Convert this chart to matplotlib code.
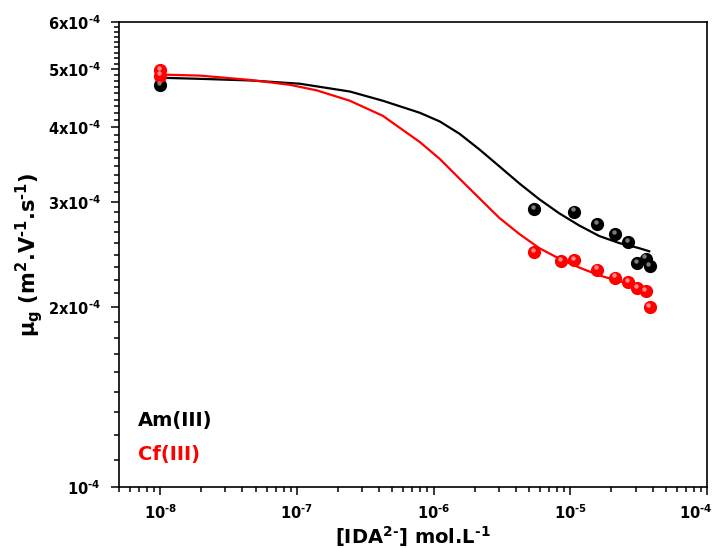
import numpy as np
import matplotlib
matplotlib.use("Agg")
import matplotlib.pyplot as plt
from matplotlib.ticker import FixedLocator, FixedFormatter, LogLocator, NullFormatter
from matplotlib.transforms import offset_copy, ScaledTranslation

plt.rcParams['font.family'] = 'DejaVu Sans'
plt.rcParams['font.weight'] = 'bold'
plt.rcParams['mathtext.default'] = 'bf'

HY = '\u2010'  # short hyphen, like the original exponents

# measured points
am_x = [1e-8, 5.4e-6, 1.07e-5, 1.58e-5, 2.14e-5, 2.63e-5, 3.1e-5, 3.55e-5, 3.8e-5]
am_y = [4.70e-4, 2.92e-4, 2.89e-4, 2.75e-4, 2.65e-4, 2.57e-4, 2.37e-4, 2.41e-4, 2.34e-4]

cf_x = [1e-8, 1e-8, 5.4e-6, 8.5e-6, 1.07e-5, 1.58e-5, 2.14e-5, 2.63e-5, 3.1e-5, 3.55e-5, 3.8e-5]
cf_y = [4.98e-4, 4.88e-4, 2.47e-4, 2.39e-4, 2.40e-4, 2.31e-4, 2.24e-4, 2.20e-4, 2.15e-4, 2.13e-4, 2.00e-4]

# fitted curves
am_fit_x = [1.00e-8, 1.96e-8, 4.54e-8, 1.05e-7, 2.44e-7, 4.25e-7, 7.91e-7, 1.11e-6,
            1.55e-6, 2.17e-6, 3.03e-6, 4.25e-6, 5.94e-6, 8.32e-6, 1.16e-5, 1.63e-5,
            2.28e-5, 3.19e-5, 3.78e-5]
am_fit_y = [4.84e-4, 4.82e-4, 4.79e-4, 4.73e-4, 4.59e-4, 4.43e-4, 4.23e-4, 4.09e-4,
            3.90e-4, 3.67e-4, 3.44e-4, 3.22e-4, 3.03e-4, 2.87e-4, 2.74e-4, 2.63e-4,
            2.56e-4, 2.51e-4, 2.48e-4]

cf_fit_x = [1.00e-8, 1.96e-8, 4.54e-8, 8.89e-8, 1.40e-7, 2.44e-7, 4.25e-7, 7.91e-7,
            1.11e-6, 1.55e-6, 2.17e-6, 3.03e-6, 4.25e-6, 5.94e-6, 8.32e-6, 1.16e-5,
            1.63e-5, 2.28e-5, 3.19e-5, 3.78e-5]
cf_fit_y = [4.90e-4, 4.88e-4, 4.80e-4, 4.71e-4, 4.61e-4, 4.43e-4, 4.18e-4, 3.78e-4,
            3.54e-4, 3.28e-4, 3.04e-4, 2.82e-4, 2.65e-4, 2.51e-4, 2.41e-4, 2.33e-4,
            2.26e-4, 2.21e-4, 2.17e-4, 2.15e-4]

y_major = [1e-4, 2e-4, 3e-4, 4e-4, 5e-4, 6e-4]
y_labels = ['$10^{%s4}$' % HY] + ['$%dx10^{%s4}$' % (k, HY) for k in range(2, 7)]
x_major = [1e-8, 1e-7, 1e-6, 1e-5, 1e-4]
x_labels = ['$10^{%s%d}$' % (HY, k) for k in (8, 7, 6, 5, 4)]

fig = plt.figure(figsize=(7.16, 5.48), dpi=100)
ax = fig.add_axes([119/716, 61/548, 588/716, 465/548])


def spheres(x, y, color, hl):
    ax.plot(x, y, 'o', ms=8.5, color=color, mec=color, zorder=4)
    tr = offset_copy(ax.transData, fig=fig, x=-0.8, y=1.6, units='points')
    ax.plot(x, y, 'o', ms=3.2, color=hl, mec='none', alpha=0.8, transform=tr, zorder=5)


ax.plot(am_fit_x, am_fit_y, '-', color='black', lw=1.6, zorder=3, solid_joinstyle='round')
ax.plot(cf_fit_x, cf_fit_y, '-', color='red', lw=1.6, zorder=3, solid_joinstyle='round')
spheres(am_x, am_y, 'black', '#9a9a9a')
spheres(cf_x, cf_y, 'red', '#ffb0b0')

ax.set_xscale('log')
ax.set_yscale('log')
ax.set_xlim(5e-9, 1e-4)
ax.set_ylim(1e-4, 6e-4)

ax.xaxis.set_major_locator(FixedLocator(x_major))
ax.xaxis.set_major_formatter(FixedFormatter(x_labels))
ax.xaxis.set_minor_locator(LogLocator(base=10, subs=np.arange(2, 10)))
ax.xaxis.set_minor_formatter(NullFormatter())

ax.yaxis.set_major_locator(FixedLocator(y_major))
ax.yaxis.set_major_formatter(FixedFormatter(y_labels))
minors = [(k + j / 9) * 1e-4 for k in range(1, 6) for j in range(1, 9)]
ax.yaxis.set_minor_locator(FixedLocator(minors))
ax.yaxis.set_minor_formatter(NullFormatter())

ax.tick_params(which='both', direction='out', top=False, right=False, width=1.1)
ax.tick_params(which='major', length=6, labelsize=10.5)
ax.tick_params(axis='x', which='major', pad=6)
ax.tick_params(axis='y', which='major', pad=7)
ax.tick_params(which='minor', length=3.5)
for s in ax.spines.values():
    s.set_linewidth(1.2)

# keep the last x label inside the picture
last = ax.xaxis.get_major_ticks()[-1].label1
last.set_transform(last.get_transform() + ScaledTranslation(-0.11, 0, fig.dpi_scale_trans))

ax.set_xlabel('[IDA$^{2%s}$] mol.L$^{%s1}$' % (HY, HY), fontsize=14, fontweight='bold', labelpad=1)
ax.set_ylabel(r'$\mu_g$ (m$^2$.V$^{%s1}$.s$^{%s1}$)' % (HY, HY), fontsize=15,
              fontweight='bold', labelpad=2)

ax.text(0.032, 0.142, 'Am(III)', transform=ax.transAxes, fontsize=14,
        fontweight='bold', color='black', va='center')
ax.text(0.032, 0.069, 'Cf(III)', transform=ax.transAxes, fontsize=14,
        fontweight='bold', color='red', va='center')

fig.savefig('out.png', dpi=100)
